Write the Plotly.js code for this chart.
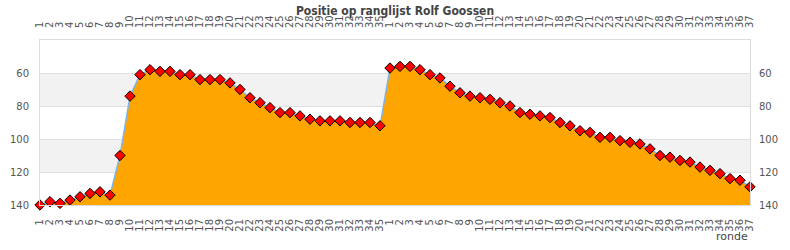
<!DOCTYPE html>
<html>
<head>
<meta charset="utf-8">
<script src="https://cdn.plot.ly/plotly-3.0.1.min.js"></script>
<style>html,body{margin:0;padding:0;background:#fff;}#chart{width:790px;height:250px;}</style>
</head>
<body>
<div id="chart"></div>
<script>
// Round labels (two seasons: 35 rounds then 37 rounds)
const rondeLabels = ["1","2","3","4","5","6","7","8","9","10","11","12","13","14","15","16","17","18","19","20","21","22","23","24","25","26","27","28","29","30","31","32","33","34","35",
  "1","2","3","4","5","6","7","8","9","10","11","12","13","14","15","16","17","18","19","20","21","22","23","24","25","26","27","28","29","30","31","32","33","34","35","36","37"];
// Position on the ranking
const positie = [140,138,139,137,135,133,132,134,110,74,61,58,59,59,61,61,64,64,64,66,70,75,78,81,84,84,86,88,89,89,89,90,90,90,92,
  57,56,56,58,61,63,68,72,74,75,76,78,80,84,85,86,87,90,92,95,96,99,99,101,102,103,106,110,111,113,114,117,119,121,124,125,129];
const yTicks = [60,80,100,120,140];
const bands = [[60,80],[100,120]];
const baseline = 140;
const yRange = [140,40];

const idx = rondeLabels.map((_, i) => i);
const base = idx.map(() => baseline);

const tickFont = {family: "DejaVu Sans", size: 10, color: "#555"};

const traces = [
  {x: idx, y: base, type: "scatter", mode: "lines", line: {width: 0, color: "rgba(0,0,0,0)"}, hoverinfo: "skip", showlegend: false},
  {x: idx, y: positie, type: "scatter", mode: "lines+markers", fill: "tonexty", fillcolor: "#FFA500",
   line: {color: "#7cb5ec", width: 1.5},
   marker: {symbol: "diamond", size: 8, color: "#ff0000", line: {color: "#000", width: 1}},
   cliponaxis: false, showlegend: false}
];

const shapes = bands.map(b => ({type: "rect", xref: "paper", yref: "y", x0: 0, x1: 1, y0: b[0], y1: b[1],
  fillcolor: "#f2f2f2", line: {width: 0}, layer: "below"}));

const layout = {
  width: 790, height: 250,
  margin: {l: 40, r: 40, t: 40, b: 45, pad: 0},
  paper_bgcolor: "#fff", plot_bgcolor: "#fff",
  showlegend: false,
  title: {text: "Positie op ranglijst Rolf Goossen", x: 0.5, xanchor: "center", y: 0.955, yanchor: "middle",
    font: {family: "DejaVu Sans Condensed", size: 12, color: "#444", weight: "bold"}},
  xaxis: {range: [0, 71], tickmode: "array", tickvals: idx, ticktext: rondeLabels, tickangle: -90,
    tickfont: tickFont, showgrid: false, zeroline: false, showline: true, linecolor: "#ddd", linewidth: 1,
    ticks: "outside", ticklen: 9, tickcolor: "rgba(0,0,0,0)", fixedrange: true},
  xaxis2: {range: [0, 71], overlaying: "x", side: "top", tickmode: "array", tickvals: idx, ticktext: rondeLabels, tickangle: -90,
    tickfont: tickFont, showgrid: false, zeroline: false, showline: true, linecolor: "#ddd", linewidth: 1,
    ticks: "outside", ticklen: 9, tickcolor: "rgba(0,0,0,0)", fixedrange: true},
  yaxis: {range: yRange, tickmode: "array", tickvals: yTicks, tickfont: tickFont, showgrid: true, gridcolor: "#e0e0e0", gridwidth: 1,
    zeroline: false, showline: true, linecolor: "#ddd", linewidth: 1, ticks: "outside", ticklen: 8, tickcolor: "rgba(0,0,0,0)", fixedrange: true},
  yaxis2: {range: yRange, overlaying: "y", side: "right", tickmode: "array", tickvals: yTicks, tickfont: tickFont, showgrid: false,
    zeroline: false, showline: true, linecolor: "#ddd", linewidth: 1, ticks: "outside", ticklen: 6, tickcolor: "rgba(0,0,0,0)", fixedrange: true},
  shapes: shapes,
  annotations: [{text: "ronde", xref: "paper", yref: "paper", x: 1, xanchor: "right", y: -0.19, yanchor: "middle",
    showarrow: false, font: {family: "DejaVu Sans", size: 11, color: "#444"}}]
};

// Invisible trace on secondary axes so they render
traces.push({x: [0], y: [140], xaxis: "x2", yaxis: "y2", mode: "markers", marker: {opacity: 0}, hoverinfo: "skip", showlegend: false});

Plotly.newPlot("chart", traces, layout, {staticPlot: true, displayModeBar: false});
</script>
</body>
</html>
